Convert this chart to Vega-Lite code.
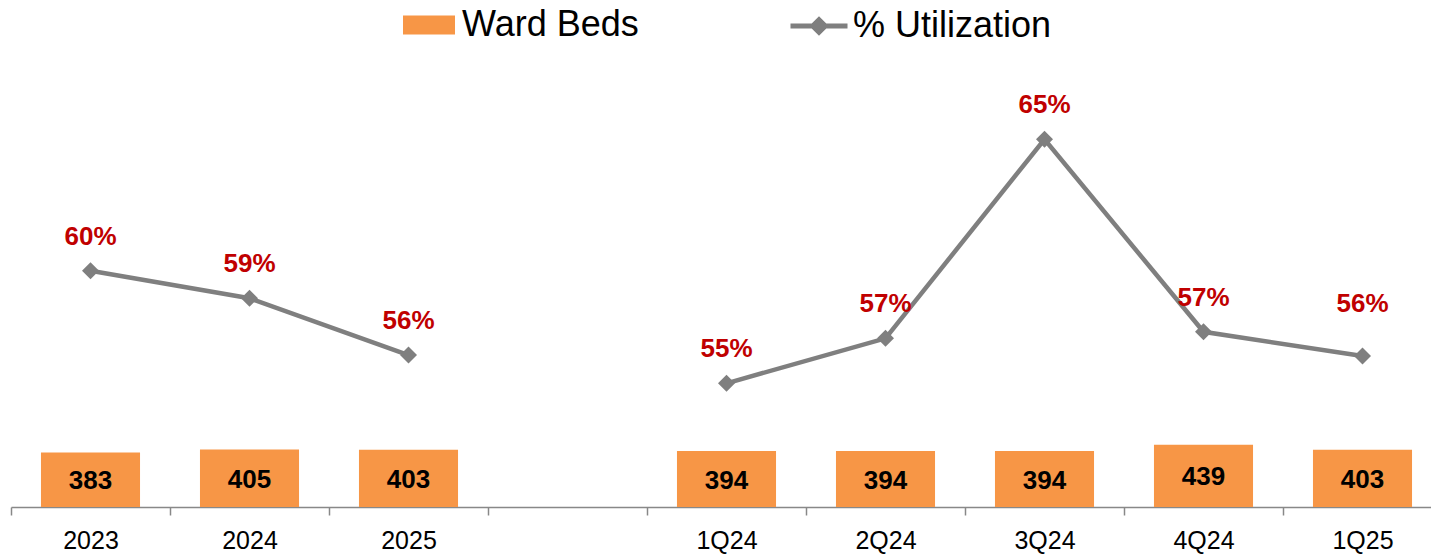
{
  "$schema": "https://vega.github.io/schema/vega-lite/v6.json",
  "width": 1420,
  "height": 447,
  "autosize": {"type": "none"},
  "padding": {"left": 11, "top": 60, "right": 0, "bottom": 47},
  "background": "#ffffff",
  "config": {
    "view": {"stroke": null},
    "font": "Liberation Sans",
    "legend": {"labelFont": "Liberation Sans", "labelFontSize": 36, "labelColor": "#000000", "padding": 0, "labelLimit": 0}
  },
  "data": {
    "values": [
      {"cat": "2023", "grp": "A", "beds": 383, "util": 0.597},
      {"cat": "2024", "grp": "A", "beds": 405, "util": 0.586},
      {"cat": "2025", "grp": "A", "beds": 403, "util": 0.5633},
      {"cat": "1Q24", "grp": "B", "beds": 394, "util": 0.552},
      {"cat": "2Q24", "grp": "B", "beds": 394, "util": 0.570},
      {"cat": "3Q24", "grp": "B", "beds": 394, "util": 0.6496},
      {"cat": "4Q24", "grp": "B", "beds": 439, "util": 0.5726},
      {"cat": "1Q25", "grp": "B", "beds": 403, "util": 0.5629}
    ]
  },
  "encoding": {
    "x": {
      "field": "cat",
      "type": "nominal",
      "title": null,
      "scale": {
        "domain": ["2023", "2024", "2025", " ", "1Q24", "2Q24", "3Q24", "4Q24", "1Q25"],
        "range": [0, 1431],
        "paddingInner": 0,
        "paddingOuter": 0
      },
      "axis": {
        "title": null,
        "labelAngle": 0,
        "tickBand": "extent",
        "grid": false,
        "domainColor": "#888888",
        "domainWidth": 1.5,
        "tickColor": "#888888",
        "tickWidth": 1.5,
        "tickSize": 8,
        "labelFont": "Liberation Sans",
        "labelFontSize": 25,
        "labelColor": "#000000",
        "labelPadding": 13,
        "labelBaseline": "top"
      }
    }
  },
  "layer": [
    {
      "mark": {"type": "bar", "width": {"band": 0.623}},
      "encoding": {
        "y": {"field": "beds", "type": "quantitative", "scale": {"domain": [0, 3147]}, "axis": null},
        "fill": {
          "datum": "Ward Beds",
          "scale": {"range": ["#F79646"]},
          "legend": {
            "orient": "none",
            "legendX": 392,
            "legendY": -61,
            "title": null,
            "symbolType": "M-1,-0.365H1V0.365H-1Z",
            "symbolSize": 2704,
            "symbolStrokeWidth": 0,
            "labelOffset": 7,
            "labelLimit": 0
          }
        }
      }
    },
    {
      "mark": {"type": "text", "font": "Liberation Sans", "fontWeight": "bold", "fontSize": 26, "baseline": "alphabetic", "dy": 9.5, "color": "#000000"},
      "encoding": {
        "y": {"field": "beds", "type": "quantitative", "scale": {"domain": [0, 6294]}, "axis": null},
        "text": {"field": "beds", "type": "quantitative"}
      }
    },
    {
      "encoding": {
        "y": {"field": "util", "type": "quantitative", "scale": {"domain": [0.50252, 0.68132]}, "axis": null}
      },
      "layer": [
        {
          "mark": {"type": "line", "strokeWidth": 4.5},
          "encoding": {
            "detail": {"field": "grp", "type": "nominal"},
            "stroke": {
              "datum": "% Utilization",
              "scale": {"range": ["#7F7F7F"]},
              "legend": {
                "orient": "none",
                "legendX": 777,
                "legendY": -65,
                "title": null,
                "symbolType": "M-1,0H1M0,-0.22L0.22,0L0,0.22L-0.22,0Z",
                "symbolSize": 3249,
                "symbolStrokeWidth": 5,
                "symbolFillColor": "#7F7F7F",
                "labelOffset": 3,
                "labelLimit": 0,
                "encode": {"symbols": {"update": {"fill": {"value": "#7F7F7F"}, "stroke": {"value": "#7F7F7F"}}}}
              }
            }
          }
        },
        {
          "mark": {"type": "point", "shape": "diamond", "filled": true, "size": 289, "color": "#7F7F7F", "opacity": 1}
        },
        {
          "transform": [{"filter": "datum.cat != '1Q25'"}],
          "mark": {"type": "text", "font": "Liberation Sans", "fontWeight": "bold", "fontSize": 26, "color": "#C00000", "baseline": "alphabetic", "dy": -26},
          "encoding": {"text": {"field": "util", "type": "quantitative", "format": ".0%"}}
        },
        {
          "transform": [{"filter": "datum.cat == '1Q25'"}],
          "mark": {"type": "text", "font": "Liberation Sans", "fontWeight": "bold", "fontSize": 26, "color": "#C00000", "baseline": "alphabetic", "dy": -44},
          "encoding": {"text": {"field": "util", "type": "quantitative", "format": ".0%"}}
        }
      ]
    }
  ],
  "resolve": {"scale": {"y": "independent"}}
}
